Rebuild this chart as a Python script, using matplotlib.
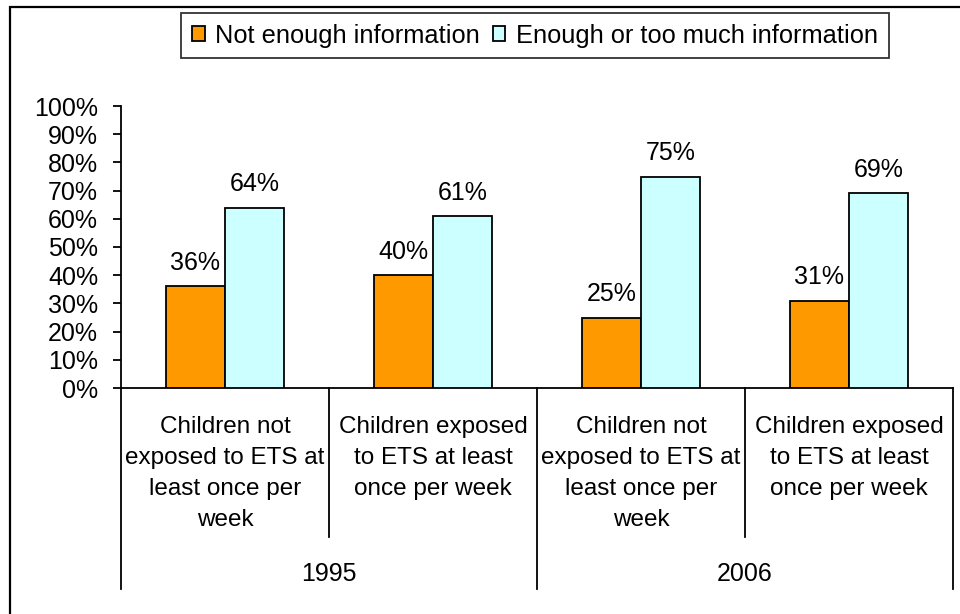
import matplotlib
matplotlib.use("Agg")
import matplotlib.pyplot as plt
import numpy as np
from matplotlib.patches import Rectangle
from matplotlib.ticker import FuncFormatter

plt.rcParams['font.family'] = ['Liberation Sans', 'DejaVu Sans']

categories = [
    "Children not\nexposed to ETS at\nleast once per\nweek",
    "Children exposed\nto ETS at least\nonce per week",
    "Children not\nexposed to ETS at\nleast once per\nweek",
    "Children exposed\nto ETS at least\nonce per week",
]
years = ["1995", "2006"]
not_enough = [36, 40, 25, 31]
enough = [64, 61, 75, 69]
series_names = ["Not enough information", "Enough or too much information"]
yticks = list(range(0, 101, 10))

W, H = 960, 614
fig = plt.figure(figsize=(W / 100, H / 100), dpi=100)
fs = 18

ax_l, ax_r, ax_t, ax_b = 121, 953, 106, 388
ax = fig.add_axes([ax_l / W, 1 - ax_b / H, (ax_r - ax_l) / W, (ax_b - ax_t) / H])

x = np.arange(len(categories))
bw = 0.285
b1 = ax.bar(x - bw / 2, not_enough, bw, color="#FF9900", edgecolor="black", linewidth=1.3, label=series_names[0], zorder=3)
b2 = ax.bar(x + bw / 2, enough, bw, color="#CCFFFF", edgecolor="black", linewidth=1.3, label=series_names[1], zorder=3)

for bars, vals in ((b1, not_enough), (b2, enough)):
    for r, v in zip(bars, vals):
        ax.annotate(f"{v}%", (r.get_x() + r.get_width() / 2, r.get_height()),
                    xytext=(0, 8), textcoords="offset points",
                    ha="center", va="bottom", fontsize=fs)

ax.set_xlim(-0.5, len(categories) - 0.5)
ax.set_ylim(0, 100)
ax.set_yticks(yticks)
ax.yaxis.set_major_formatter(FuncFormatter(lambda v, p: f"{int(v)}%"))
ax.tick_params(axis="y", direction="out", length=6, width=1.3, labelsize=fs, pad=10.5)
ax.set_xticks([])
for s in ("top", "right"):
    ax.spines[s].set_visible(False)
ax.spines["left"].set_linewidth(1.3)
ax.spines["bottom"].set_linewidth(1.3)

trans = ax.get_xaxis_transform()
ph = ax_b - ax_t
y_short = -(537 - ax_b) / ph
y_long = -(589 - ax_b) / ph
# separators between categories within a year
for xs in (0.5, 2.5):
    ax.plot([xs, xs], [0, y_short], color="black", lw=1.3, transform=trans, clip_on=False)
# separators between years
for xs in (-0.5, 1.5, 3.5):
    ax.plot([xs, xs], [0, y_long], color="black", lw=1.3, transform=trans, clip_on=False)

# category labels
y_cat = -(416 - ax_b) / ph
for xi, lab in zip(x, categories):
    ax.text(xi, y_cat, lab, transform=trans, ha="center", va="top", fontsize=17.5, linespacing=1.52)

y_year = -(574 - ax_b) / ph
for gi, yr in enumerate(years):
    ax.text(2 * gi + 0.5, y_year, yr, transform=trans, ha="center", va="center", fontsize=fs)

leg = fig.legend(handles=[b1, b2], labels=series_names, loc="center",
                 bbox_to_anchor=(535 / W, 1 - 35.5 / H), bbox_transform=fig.transFigure,
                 ncol=2, fontsize=18.3, frameon=True, fancybox=False, shadow=False,
                 handlelength=0.5, handleheight=0.5, handletextpad=0.42, columnspacing=0.5,
                 borderpad=0.42, borderaxespad=0)
leg.get_frame().set_edgecolor("black")
leg.get_frame().set_linewidth(1.3)

# outer border of chart area
fig.patches.append(Rectangle((10 / W, -0.1), 1.2, 1 - 7 / H + 0.1, transform=fig.transFigure,
                             fill=False, edgecolor="black", linewidth=1.6, zorder=0))

fig.savefig("out.png", dpi=100)
